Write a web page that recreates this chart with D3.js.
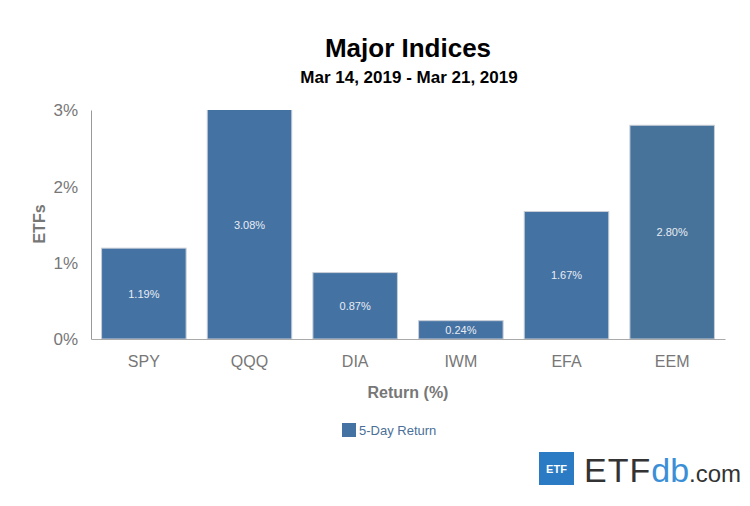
<!DOCTYPE html>
<html lang="en">
<head>
<meta charset="UTF-8">
<title>Major Indices</title>
<script src="https://d3js.org/d3.v7.min.js"></script>
<style>
  body { margin: 0; background: #fff; }
  text { font-family: "Liberation Sans", Arial, sans-serif; }
</style>
</head>
<body>
<script>
    const tickers = ["SPY", "QQQ", "DIA", "IWM", "EFA", "EEM"];
    const returns = [1.19, 3.08, 0.87, 0.24, 1.67, 2.80];
    const yTicks = [0, 1, 2, 3];
    const seriesName = "5-Day Return";

    const w = 750, h = 506;
    const plotLeft = 91, plotRight = 725, plotTop = 110, plotBottom = 339;

    const svg = d3.select("body").append("svg")
        .attr("width", w)
        .attr("height", h);

    //scales
    const xScale = d3.scaleBand()
        .domain(tickers)
        .range([plotLeft, plotRight])
        .paddingInner(0.2)
        .paddingOuter(0.1);

    const yScale = d3.scaleLinear()
        .domain([0, 3])
        .range([plotBottom, plotTop]);

    //titles
    svg.append("text")
        .attr("x", 408).attr("y", 57)
        .attr("text-anchor", "middle")
        .style("font-size", "26px").style("font-weight", "bold")
        .text("Major Indices");
    svg.append("text")
        .attr("x", 409).attr("y", 83)
        .attr("text-anchor", "middle")
        .style("font-size", "17px").style("font-weight", "bold")
        .text("Mar 14, 2019 - Mar 21, 2019");

    //bars, clipped at the top of the plot area
    svg.append("clipPath").attr("id", "plot")
        .append("rect")
        .attr("x", plotLeft).attr("y", plotTop)
        .attr("width", plotRight - plotLeft).attr("height", plotBottom - plotTop);

    svg.append("g").attr("clip-path", "url(#plot)")
        .selectAll("rect")
        .data(returns)
        .enter()
        .append("rect")
        .attr("x", (d, i) => xScale(tickers[i]))
        .attr("y", d => yScale(d))
        .attr("width", xScale.bandwidth())
        .attr("height", d => plotBottom - yScale(d))
        .attr("fill", (d, i) => i == 5 ? "#47739a" : "#4472a3")
        .attr("stroke", "#c9ced6")
        .attr("stroke-width", 1);

    //value labels
    svg.selectAll(".val")
        .data(returns)
        .enter()
        .append("text")
        .attr("class", "val")
        .attr("x", (d, i) => xScale(tickers[i]) + xScale.bandwidth() / 2)
        .attr("y", d => (yScale(Math.min(d, 3)) + plotBottom) / 2 + 4)
        .attr("text-anchor", "middle")
        .style("font-size", "11px")
        .attr("fill", "#e8edf3")
        .text(d => d.toFixed(2) + "%");

    //axes
    const yAxis = d3.axisLeft(yScale)
        .tickValues(yTicks)
        .tickSize(0)
        .tickPadding(13)
        .tickFormat(d => d + "%");
    const gy = svg.append("g")
        .attr("transform", "translate(" + plotLeft + ",0)")
        .call(yAxis);
    gy.select(".domain").attr("stroke", "#999");
    gy.selectAll("text").style("font-size", "17px").attr("fill", "#777").attr("dy", "0.35em");

    const xAxis = d3.axisBottom(xScale).tickSize(0).tickPadding(17);
    const gx = svg.append("g")
        .attr("transform", "translate(0," + plotBottom + ")")
        .call(xAxis);
    gx.select(".domain").attr("stroke", "#aaa");
    gx.selectAll("text").style("font-size", "16px").attr("fill", "#777");

    //axis titles
    svg.append("text")
        .attr("transform", "rotate(-90)")
        .attr("x", -224).attr("y", 45)
        .attr("text-anchor", "middle")
        .style("font-size", "16px").style("font-weight", "bold")
        .attr("fill", "#777")
        .text("ETFs");
    svg.append("text")
        .attr("x", 408).attr("y", 398)
        .attr("text-anchor", "middle")
        .style("font-size", "16px").style("font-weight", "bold")
        .attr("fill", "#777")
        .text("Return (%)");

    //legend
    svg.append("rect")
        .attr("x", 342).attr("y", 423).attr("width", 14).attr("height", 14)
        .attr("fill", "#4472a3");
    svg.append("text")
        .attr("x", 359).attr("y", 435)
        .style("font-size", "13px")
        .attr("fill", "#4a6f98")
        .text(seriesName);

    //logo
    svg.append("rect")
        .attr("x", 539).attr("y", 452).attr("width", 35).attr("height", 33)
        .attr("fill", "#2a7bc3");
    svg.append("text")
        .attr("x", 556.5).attr("y", 473)
        .attr("text-anchor", "middle")
        .style("font-size", "11px").style("font-weight", "bold")
        .attr("fill", "#fff")
        .text("ETF");
    const logo = svg.append("text")
        .attr("x", 584).attr("y", 482)
        .style("font-size", "34px")
        .attr("fill", "#333");
    logo.append("tspan").text("ETF").style("letter-spacing", "1px");
    logo.append("tspan").text("db").attr("fill", "#3b8fd7");
    logo.append("tspan").text(".com").style("font-size", "24px");
</script>
</body>
</html>
